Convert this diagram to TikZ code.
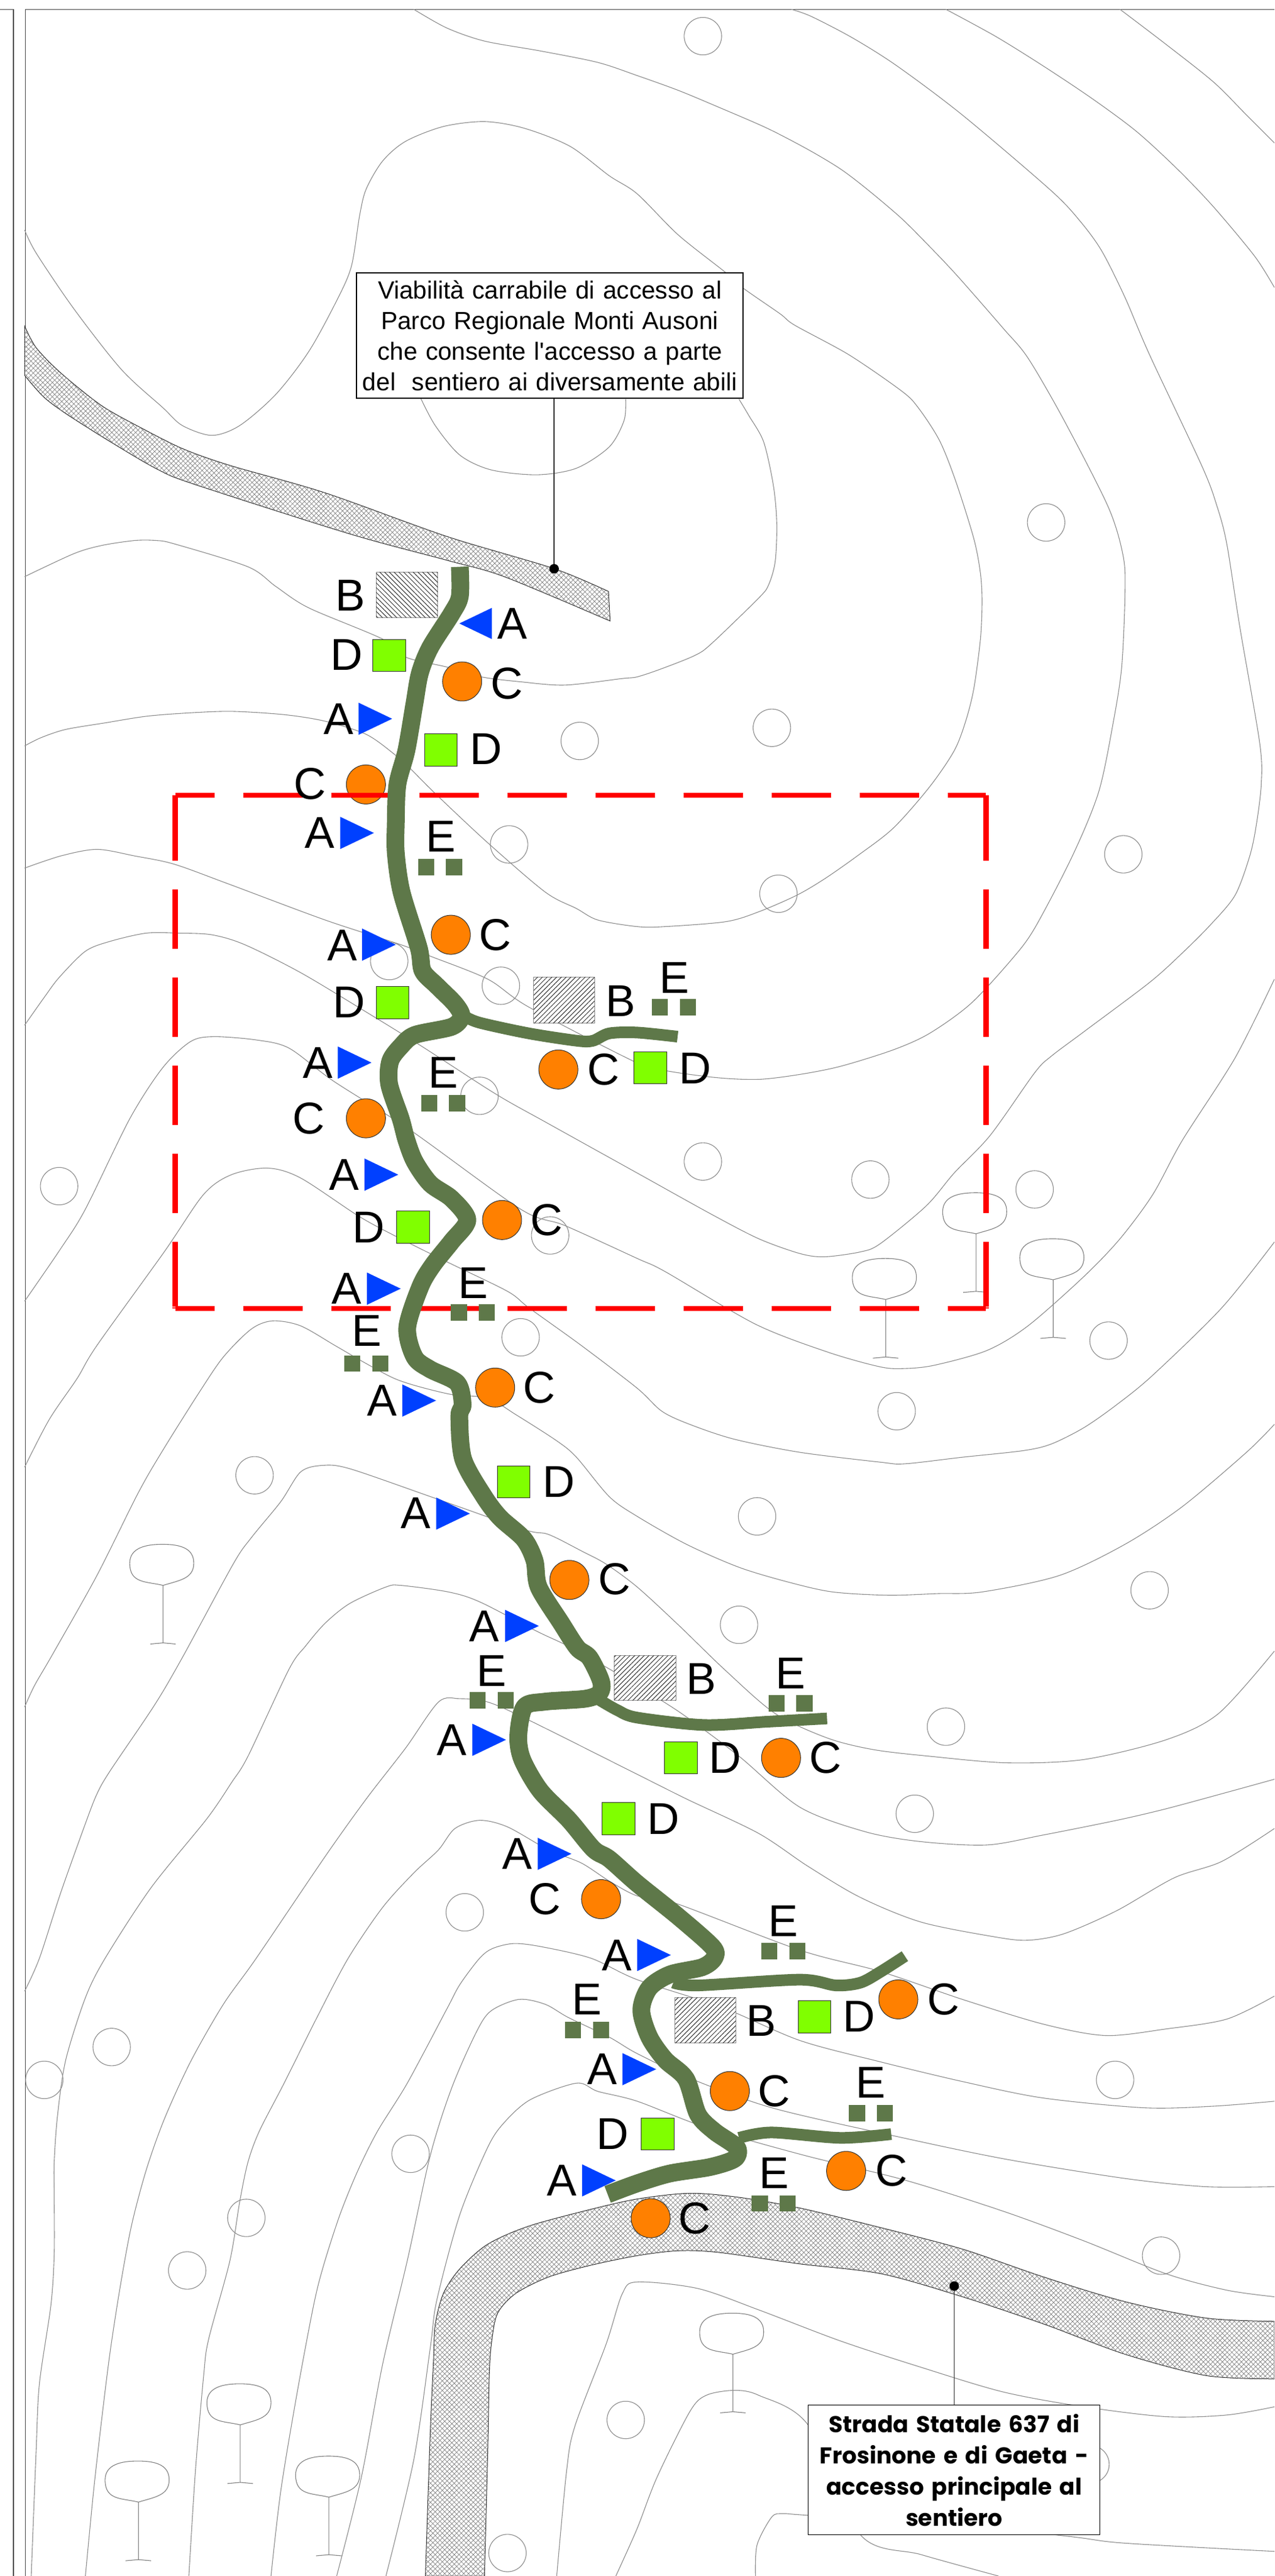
\documentclass[tikz,border=0pt]{standalone}
\usepackage{fontspec}
\setmainfont{Liberation Sans}
\newfontfamily\calloutfont{Liberation Sans}
\newfontfamily\boxbold{Poppins}
\usetikzlibrary{patterns.meta}
\definecolor{trailgreen}{HTML}{5E7849}
\definecolor{squaregreen}{HTML}{80FF00}
\definecolor{circorange}{HTML}{FF8000}
\definecolor{triblue}{HTML}{0040FF}
\tikzset{
  x=2.6856pt,y=-2.6856pt,
  ct/.style={draw=black!45,line width=1.1pt},
  fr/.style={draw=black!70,line width=1.4pt},
  treeline/.style={draw=black!50,line width=1.1pt},
  roadst/.style={draw=black!85,line width=1pt,fill=white,
    postaction={pattern={Lines[angle=45,distance=5.5pt,line width=.7pt]},pattern color=black!50},
    postaction={pattern={Lines[angle=-45,distance=5.5pt,line width=.7pt]},pattern color=black!50}},
  hatchL/.style={draw=black!45,line width=1pt,fill=white,
    postaction={pattern={Lines[angle=45,distance=5.5pt,line width=1pt]},pattern color=black!80}},
  hatchR/.style={draw=black!45,line width=1pt,fill=white,
    postaction={pattern={Lines[angle=-45,distance=5.5pt,line width=1pt]},pattern color=black!80}},
  trailmain/.style={draw=trailgreen,line width=29pt,line join=round},
  trailbranch/.style={draw=trailgreen,line width=19pt,line join=round},
  redbox/.style={draw=red,line width=8.5pt},
  lab/.style={inner sep=0pt,font=\fontsize{73}{73}\selectfont,text=black},
  dbox/.style={draw=black!80,fill=squaregreen,line width=1pt},
  cdisc/.style={circle,draw=black!80,fill=circorange,line width=1pt},
  atri/.style={fill=triblue},
  esq/.style={fill=trailgreen},
  callout/.style={draw=black,fill=white,line width=1.3pt,inner sep=0pt,align=center},
  blackdot/.style={fill=black},
}
\newcommand{\drawtree}[2]{%
  \begin{scope}[shift={(#1,#2)}]
  \draw[treeline] (20.3,25) .. controls (10,22.5) and (0,24) .. (0,11.5) .. controls (0,2) and (10,0) .. (20,0) .. controls (32,0) and (39,3) .. (39,11.5) .. controls (39,21) and (30,22) .. (20.3,25) -- (20.3,60);
  \draw[treeline] (12.5,60.7) -- (20.3,60) -- (28,60.7);
  \end{scope}}
\begin{document}
\begin{tikzpicture}
\useasboundingbox (0,0) rectangle (776,1568);
\fill[white] (0,0) rectangle (776,1568);
\clip (0,0) rectangle (776,1568);
% frame
\draw[fr] (0,5.7) -- (8.2,5.7) -- (8.2,1568);
\draw[fr] (776,5.7) -- (15.4,5.7) -- (15.4,1568);
% contours
\draw[ct] plot[smooth,tension=.5] coordinates {(252,5.7)(272,17)(295,25)(329,31)(364,38)(388,46)(413,55)(437,65)(467,78)(492,91)(512,103)(529,116)(549,133)(566,150)(583,168)(611,200)(626,218)(648,256)(675,309)(684,339)(685,362)(683,406)(678,439)(669,482)(653,521)(630,565)(616,584)(591,611)(566,629)(544,639)(512,649)(487,654)(462,657)(437,656)(407,652)(388,647)(322,613)(297,596)(262,582)(244,575)(198,560)(139,538)(106,526)(82,521)(59,517)(37,521)(15,528.4)};
\draw[ct] plot[smooth,tension=.5] coordinates {(482,5.7)(494,10)(519,23)(546,40)(586,70)(640,116)(658,135)(671,153)(685,181)(700,216)(732,284)(741,308)(747,331)(755,382)(767,452)(768,477)(765,502)(761,521)(752,545)(737,563)(720,580)(700,598)(660,628)(640,643)(630,653)(603,691)(581,714)(564,734)(536,757)(524,762)(502,765)(487,763)(462,754)(433,739)(388,714)(334,684)(302,666)(257,637)(223,616)(183,592)(149,575)(129,569)(109,568)(89,568)(67,573)(52,579)(36,595)(27,607)(15,624)};
\draw[ct] plot[smooth,tension=.5] coordinates {(576,5.7)(606,22)(635,40)(665,60)(692,80)(717,103)(739,126)(764,156)(776,175)};
\draw[ct] plot[smooth,tension=.5] coordinates {(682,5.7)(710,27)(739,50)(759,70)(776,87)};
\draw[ct] plot[smooth,tension=.5] coordinates {(776,596)(752,644)(720,694)(702,727)(682,754)(660,777)(626,807)(601,822)(569,831)(551,833)(536,832)(504,823)(460,806)(405,774)(388,766)(344,746)(317,736)(250,688)(203,658)(176,638)(156,633)(130,631)(116,634)(99,650)(79,681)(52,736)(37,760)(15,792)};
\draw[ct] plot[smooth,tension=.5] coordinates {(776,756)(744,796)(702,837)(680,855)(660,869)(640,879)(623,883)(586,887)(551,891)(536,890)(487,884)(447,876)(420,867)(403,859)(388,845)(354,819)(322,796)(309,786)(272,768)(240,752)(218,740)(183,717)(163,711)(141,715)(124,727)(100,762)(59,819)(47,839)(30,864)(15,893)};
\draw[ct] plot[smooth,tension=.5] coordinates {(776,867)(759,884)(720,917)(685,940)(645,959)(598,969)(571,970)(541,971)(507,969)(480,963)(450,954)(418,940)(388,923)(371,911)(351,887)(339,877)(314,861)(297,851)(276,849)(255,844)(240,839)(223,830)(204,819)(183,807)(166,804)(153,809)(136,826)(121,848)(99,883)(84,909)(59,959)(32,1007)(21,1026)(15,1039)};
\draw[ct] plot[smooth,tension=.5] coordinates {(776,1005)(742,1043)(710,1059)(660,1071)(613,1073)(566,1069)(532,1065)(504,1058)(472,1043)(442,1017)(413,989)(388,966)(369,952)(354,944)(334,934)(319,931)(265,912)(213,894)(196,892)(183,896)(171,914)(153,936)(142,952)(111,1009)(94,1038)(67,1078)(59,1092)(52,1110)(37,1152)(24,1192)(15,1212)};
\draw[ct] plot[smooth,tension=.5] coordinates {(776,1113)(744,1133)(715,1143)(680,1163)(648,1177)(626,1181)(606,1179)(561,1170)(524,1155)(492,1136)(462,1116)(418,1095)(388,1080)(322,1047)(297,1036)(280,1034)(267,1036)(247,1064)(223,1095)(198,1130)(156,1192)(136,1220)(116,1255)(100,1290)(89,1321)(80,1355)(73,1393)(67,1432)(62,1472)(57,1516)(52,1568)};
\draw[ct] plot[smooth,tension=.5] coordinates {(776,1083)(747,1091)(710,1101)(680,1108)(635,1117)(601,1123)(561,1121)(527,1115)(487,1100)(450,1069)(415,1043)(388,1026)(366,1013)(344,1001)(327,993)(292,975)(273,969)(244,965)(235,966)(213,976)(198,988)(186,1002)(176,1016)(151,1069)(141,1085)(126,1107)(92,1149)(64,1192)(52,1216)(40,1254)(35,1288)(33,1316)(33,1336)(33,1372)(31,1403)(24,1451)(22,1492)(19,1568)};
\draw[ct] plot[smooth,tension=.5] coordinates {(776,1215)(747,1229)(710,1235)(673,1239)(635,1232)(586,1217)(536,1200)(487,1187)(410,1158)(388,1154)(371,1145)(354,1134)(334,1126)(309,1112)(292,1108)(277,1113)(267,1126)(252,1140)(233,1161)(212,1192)(193,1228)(173,1268)(158,1297)(151,1316)(146,1340)(140,1376)(127,1424)(124,1446)(119,1504)(115,1568)};
\draw[ct] plot[smooth,tension=.5] coordinates {(776,1279)(739,1282)(697,1283)(635,1277)(586,1267)(536,1255)(487,1242)(440,1222)(388,1205)(360,1192)(330,1185)(313,1183)(300,1186)(292,1192)(280,1208)(272,1223)(248,1268)(230,1297)(218,1321)(207,1348)(197,1379)(191,1403)(181,1456)(171,1516)(165,1568)};
\draw[ct] plot[smooth,tension=.5] coordinates {(776,1331)(734,1331)(685,1326)(611,1314)(544,1300)(470,1283)(420,1265)(388,1250)(371,1240)(346,1228)(332,1220)(316,1217)(299,1224)(290,1237)(275,1271)(262,1312)(248,1376)(233,1439)(220,1508)(205,1568)};
\draw[ct] plot[smooth,tension=.5] coordinates {(776,1398)(747,1394)(710,1384)(660,1364)(611,1346)(551,1327)(490,1312)(430,1295)(388,1279)(364,1273)(351,1268)(323,1278)(307,1292)(297,1307)(280,1348)(266,1400)(262,1429)(252,1497)(235,1568)};
\draw[ct] plot[smooth,tension=.5] coordinates {(776,1465)(747,1470)(710,1471)(660,1465)(611,1456)(561,1441)(512,1425)(462,1406)(425,1393)(388,1389)(379,1396)(369,1427)(350,1477)(345,1504)(339,1568)};
\draw[ct] plot[smooth,tension=.5] coordinates {(375,1568)(388,1539)(400,1508)(420,1468)(430,1458)(447,1455)(462,1458)(492,1476)(524,1543)(561,1555)(608,1568)};
\draw[ct] plot[smooth,tension=.5] coordinates {(460,1568)(461,1549)(470,1532)(477,1530)(492,1531)(570,1535)(652,1544)(685,1548)(776,1553)};
\draw[ct] plot[smooth,tension=.5] coordinates {(15,140)(22,154)(45,188)(74,225)(99,248)(111,259)(129,265)(146,259)(168,240)(188,214)(205,183)(214,162)(219,131)(223,115)(233,98)(247,86)(270,77)(295,74)(319,78)(347,89)(371,107)(388,118)(413,143)(442,166)(452,175)(475,191)(484,198)(517,216)(549,238)(559,248)(572,268)(582,293)(593,328)(597,349)(598,366)(597,389)(593,419)(588,439)(581,457)(566,479)(544,504)(522,521)(502,535)(485,545)(462,555)(442,561)(405,564)(388,564)(364,560)(351,553)(332,543)(297,513)(265,483)(250,468)(240,459)(223,447)(198,439)(173,435)(141,433)(114,434)(89,436)(64,440)(40,444)(25,449)(15,454)};
\draw[ct] plot[smooth,tension=.5] coordinates {(256,242)(265,259)(280,277)(299,286)(327,289)(351,285)(371,272)(380,256)(381,243)};
\draw[ct] plot[smooth,tension=.5] coordinates {(15,351)(45,337)(62,332)(82,329)(95,329)(106,331)(151,345)(168,357)(188,370)(233,389)(247,400)(272,406)(293,412)(317,415)(344,417)(379,413)(388,412)(403,407)(423,399)(433,392)(462,364)(468,356)(472,342)(473,319)(471,296)(465,269)(456,253)(450,243)};
% small circles
\foreach \x/\y in {428/22,637/318,470/443,684/520,353/451,310/514,237/585,305/600,292/667,36/722,335/752,317/814,474/544,428/707,530/718,630/724,675/816,546/859,461/923,700/968,450/989,155/898,283/1164,68/1246,27/1266,250/1311,150/1350,114/1382,309/1554,381/1473,576/1051,557/1104,679/1266,707/1373,664/1500}
  \draw[ct] (\x,\y) circle[radius=11.4];
% trees
\drawtree{519}{766}
\drawtree{574}{726}
\drawtree{621}{754}
\drawtree{79}{940}
\drawtree{126}{1451}
\drawtree{64}{1498}
\drawtree{180}{1495}
\drawtree{426}{1408}
% roads
\draw[roadst] plot[smooth,tension=.5] coordinates {(15,198.5)(22,211.6)(37,227)(62,247)(87,261)(111,273)(139,283)(198,300)(272,326.5)(337,346)(370.5,360)} -- (371.5,378) -- plot[smooth,tension=.5] coordinates {(371.5,378)(307,351)(272,341)(213,325)(119,295)(96.5,286)(69,270)(42,253)(27,242)(15,228.5)} -- cycle;
\draw[roadst] plot[smooth,tension=.5] coordinates {(776,1413)(734.5,1411)(685,1401)(635.5,1386)(586,1369)(536.5,1356)(487,1344)(450,1337.5)(420,1335)(388,1338.5)(359,1345)(322,1355)(297,1366)(280,1381)(270,1396)(265,1415)(264,1436)(262,1480)(259,1568)} -- plot[smooth,tension=.5] coordinates {(295,1568)(297,1492)(298,1444)(299.5,1424.5)(303,1408)(314,1396)(334,1386)(359,1379)(388,1373)(413,1370)(437.5,1371)(487,1378)(536.5,1384)(586,1398)(635.5,1414.6)(685,1433)(734.5,1446)(776,1448)} -- cycle;
% B hatched rectangles
\draw[hatchR] (229,348.4) rectangle (266.6,376);
\draw[hatchL] (325,595) rectangle (362,622.8);
\draw[hatchL] (374,1007.7) rectangle (411.5,1035);
\draw[hatchL] (411,1216) rectangle (448,1243.6);
% D squares
\foreach \x/\y in {237/399,268.5/456.6,239/610.2,396/650,251.4/747,312.8/902,414.5/1070,376.7/1107,496/1227.6,400.4/1299}
  \draw[dbox] (\x-10,\y-9.8) rectangle (\x+10,\y+9.8);
% C discs
\foreach \x/\y [count=\i] in {281.4/414.8,222.8/477.5,274.5/569,340/651,222.8/680.7,305.7/742.6,301.5/844.6,346.7/961.7,475.6/1070,366/1156,547/1217,444.4/1272.8,515.2/1321.4,396.2/1350.2}
  \node[cdisc,minimum size=64pt,inner sep=0pt] (disc\i) at (\x,\y) {};
% red dashed rectangle
\coordinate (rTL) at (106.7,484);
\coordinate (rTR) at (600.4,484);
\coordinate (rBL) at (106.7,796.5);
\coordinate (rBR) at (600.4,796.5);
\draw[redbox,dash pattern=on 97pt off 47pt,dash phase=33pt] (rTL) -- (rTR);
\draw[redbox,dash pattern=on 97pt off 47pt,dash phase=33pt] (rBL) -- (rBR);
\draw[redbox,dash pattern=on 107pt off 47pt on 97pt off 47pt on 97pt off 47pt on 97pt off 47pt on 97pt off 47pt on 106pt off 1pt] (rTL) -- (rBL);
\draw[redbox,dash pattern=on 107pt off 47pt on 97pt off 47pt on 97pt off 47pt on 97pt off 47pt on 97pt off 47pt on 106pt off 1pt] (rTR) -- (rBR);
% trail branches
\draw[trailbranch] plot[smooth,tension=.5] coordinates {(283,618.6)(292,622.5)(322,629)(351.4,633.5)(361,633.5)(371,629)(388,628.5)(412.6,631)};
\draw[trailbranch] plot[smooth,tension=.5] coordinates {(363.8,1034)(376,1041)(388,1045.5)(428.8,1050)(467,1048)(503.6,1046)};
\draw[trailbranch] plot[smooth,tension=.5] coordinates {(410,1206.8)(425,1208.5)(487,1205)(509,1208.5)(524,1206.8)(536.5,1200)(551,1190.7)};
\draw[trailbranch] plot[smooth,tension=.5] coordinates {(450,1301.3)(469.7,1298)(511.8,1301.3)(542.7,1299)};
% main trail
\draw[trailmain] plot[smooth,tension=.5] coordinates {(280,345)(280,363)(275,373.5)(262,394)(255.7,409.6)(252.4,428)(247.5,456.6)(242,477.5)(241,501)(241,519)(244.5,543)(255,577)(257.4,591)(266,600)(277,611)(281,618.6)(275,625)(252.5,630)(244,637)(237.6,646)(237,660)(244,681)(247.5,694)(252.5,707)(262,720.5)(275,729.6)(284.6,742.6)(275,755.7)(263.6,770)(256,783)(248,808)(252.4,826)(262,833.5)(278.4,841.8)(281.7,855)(279.7,862)(282,888)(294.5,910.6)(304.4,923.7)(319,936.8)(325.5,950)(328,966)(341.6,987.8)(351.5,1003)(359,1009)(366,1023.5)(365,1030.6)(356.4,1034)(331.7,1035.8)(319.3,1039)(315.6,1056.7)(318,1071)(329,1090)(346.5,1107.8)(361.4,1125.6)(371,1131.5)(388,1146.5)(413,1166.6)(433.8,1185)(435,1191.7)(427.6,1197.4)(408,1201.8)(395.4,1210)(390.5,1223.6)(395.4,1240)(405,1253.7)(417.7,1265.4)(425,1287)(435,1297.3)(448.6,1307)(447.4,1314)(432.6,1319)(407.8,1323)(388,1329)(370,1335.7)};
% A triangles
\fill[atri] (279.7,379.5) -- (299.5,370) -- (299.5,389) -- cycle;
\foreach \x/\y in {218.3/437.5,207.2/507,220.5/575,205.7/646.8,222/715,223.5/784.4,245/852.5,265.6/921.3,307.6/989.7,287.6/1059,327.4/1128.4,388/1190,379/1259.5,354.4/1327.2}
  \fill[atri] (\x,\y-9.8) -- (\x+20.5,\y) -- (\x,\y+9.8) -- cycle;
% E squares
\foreach \x/\y in {268/527.7,269.8/671.6,288/798.8,223/830,410.3/613,481.3/1036.7,299.4/1035,477/1187.7,357.4/1235.5,530.3/1286.2,471.2/1341.2}
  {\fill[esq] (\x-13.4,\y-5) rectangle (\x-3.6,\y+5);
   \fill[esq] (\x+3.6,\y-5) rectangle (\x+13.4,\y+5);}
% labels
\foreach \x/\y [count=\i] in {312/379.5,206.2/437.5,194.8/507,208.4/575.5,193.5/646.8,209.6/715,211/784.4,232.7/852.5,253.2/921,295/989.7,275.2/1059,315/1128.4,375.5/1190,366.8/1259.5,342/1327.2}
  \node[lab] (labA\i) at (\x,\y) {A};
\foreach \x/\y [count=\i] in {213.3/362.5,378/609.4,427/1022,463.5/1230}
  \node[lab] (labB\i) at (\x,\y) {B};
\foreach \x/\y [count=\i] in {308.6/416,188.6/477,301.5/569,367.3/651,188/680.7,333/742.6,328.4/844.6,374.2/961.2,502.8/1070,331.7/1156,574.4/1217,471.4/1272.8,542.7/1321.4,423.1/1350.2}
  \node[lab] (labC\i) at (\x,\y) {C};
\foreach \x/\y [count=\i] in {211/398.5,295.8/456,212.4/610,423.4/650.3,224.5/747,340.3/902,441.7/1070,404/1107,523/1227.6,373/1299}
  \node[lab] (labD\i) at (\x,\y) {D};
\foreach \x/\y [count=\i] in {268.5/509,269.8/653,288/781,223.5/810,410.5/595,481.3/1018.4,299.5/1017,477/1169.3,357.4/1217,530.3/1267.8,471.2/1322.7}
  \node[lab] (labE\i) at (\x,\y) {E};
% callouts
\node[callout,text width=632pt,minimum height=205pt,font=\calloutfont\fontsize{40.5}{50}\selectfont] (boxA) at (334.8,204.2) {Viabilità carrabile di accesso al\\Parco Regionale Monti Ausoni\\che consente l'accesso a parte\\del\ \ sentiero ai diversamente abili};
\node[callout,text width=477pt,minimum height=212pt,font=\boxbold\bfseries\fontsize{37.5}{51}\selectfont] (boxB) at (581,1503.5) {Strada Statale 637 di\\Frosinone e di Gaeta -\\accesso principale al\\sentiero};
\coordinate (dotA) at (337.4,346.2);
\coordinate (dotB) at (581,1391.5);
\draw[draw=black!80,line width=1.3pt] (boxA.south -| dotA) -- (dotA);
\draw[draw=black!80,line width=1.3pt] (boxB.north -| dotB) -- (dotB);
\fill[blackdot] (dotA) circle[radius=2.9];
\fill[blackdot] (dotB) circle[radius=2.9];
\end{tikzpicture}
\end{document}
